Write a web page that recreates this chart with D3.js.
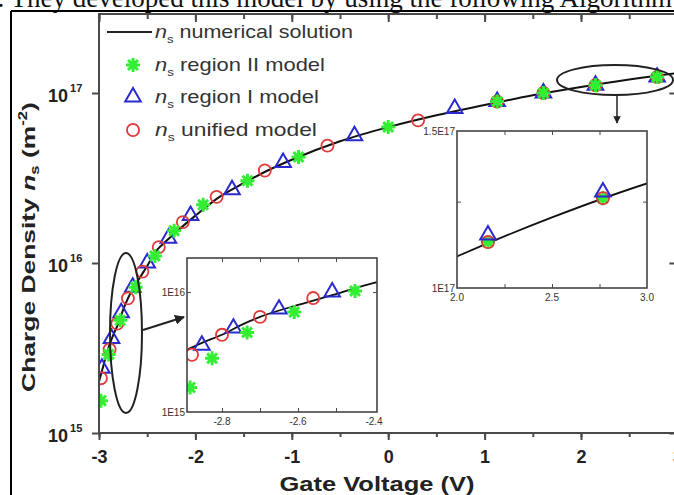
<!DOCTYPE html>
<html>
<head>
<meta charset="utf-8">
<script src="https://cdn.jsdelivr.net/npm/d3@7"></script>
<style>
  body { margin: 0; background: #fff; }
  svg { display: block; font-family: "Liberation Sans", Arial, sans-serif; }
  .axis path, .axis line { stroke: #4a4a4a; }
</style>
</head>
<body>
<div id="chart"></div>
<script>
// numerical solution curve (gate voltage, n_s in m^-2)
const curveV = [-3.0, -2.95, -2.9, -2.85, -2.8, -2.75, -2.7, -2.6, -2.5, -2.4, -2.3, -2.2, -2.0, -1.75, -1.5, -1.25, -1.0, -0.5, 0, 0.5, 1.0, 1.5, 2.0, 2.5, 3.0, 3.2];
const curveN = [2.0e15, 2.55e15, 3.2e15, 3.8e15, 4.4e15, 5.3e15, 6.2e15, 7.8e15, 9.6e15, 1.19e16, 1.35e16, 1.52e16, 1.9e16, 2.45e16, 2.95e16, 3.5e16, 4.05e16, 5.2e16, 6.3e16, 7.4e16, 8.5e16, 9.7e16, 1.085e17, 1.2e17, 1.31e17, 1.35e17];

// region II model (green stars)
const starV = [-2.98, -2.9, -2.78, -2.62, -2.42, -2.22, -1.92, -1.46, -0.93, 0.0, 1.13, 1.61, 2.15, 2.79];
const starN = [1.55e15, 2.9e15, 4.6e15, 7.2e15, 1.1e16, 1.55e16, 2.2e16, 3.05e16, 4.2e16, 6.3e16, 8.9e16, 1.0e17, 1.11e17, 1.24e17];
// region I model (blue triangles)
const triV = [-2.97, -2.87, -2.77, -2.65, -2.5, -2.28, -2.05, -1.62, -1.09, -0.35, 0.69, 1.13, 1.61, 2.15, 2.79];
const triN = [2.4e15, 3.6e15, 5.1e15, 7.2e15, 1.0e16, 1.4e16, 1.9e16, 2.7e16, 3.9e16, 5.6e16, 8.1e16, 8.9e16, 1.0e17, 1.11e17, 1.24e17];
// unified model (red circles)
const circV = [-2.98, -2.89, -2.81, -2.7, -2.55, -2.38, -2.13, -1.78, -1.28, -0.63, 0.31, 1.13, 1.61, 2.15, 2.79];
const circN = [2.1e15, 3.1e15, 4.4e15, 6.2e15, 8.9e15, 1.24e16, 1.74e16, 2.45e16, 3.5e16, 4.9e16, 6.9e16, 8.9e16, 1.0e17, 1.11e17, 1.24e17];

// zoomed inset near threshold
const inStarV = [-2.884, -2.826, -2.734, -2.61, -2.45];
const inStarN = [1.6e15, 2.8e15, 4.6e15, 6.8e15, 1.02e16];
const inTriV = [-2.853, -2.77, -2.65, -2.51];
const inTriN = [3.6e15, 5.0e15, 7.2e15, 1.0e16];
const inCircV = [-2.879, -2.8, -2.7, -2.56];
const inCircN = [3.0e15, 4.4e15, 6.2e15, 8.9e15];

// zoomed inset at high gate voltage
const hiV = [2.163, 2.768];
const hiTriN = [1.147e17, 1.281e17];
const hiCircN = [1.126e17, 1.261e17];
const hiStarN = [1.126e17, 1.261e17];

const xTicks = [-3, -2, -1, 0, 1, 2, 3];
const yTicks = [1e15, 1e16, 1e17];
const legendLabels = ["numerical solution", "region II model", "region I model", "unified model"];

const W = 674, H = 495;
const colors = { star: "#33ee33", tri: "#2a2ad0", circ: "#e03a3a", line: "#111", axis: "#4a4a4a", text: "#333" };

const svg = d3.select("#chart").append("svg").attr("width", W).attr("height", H);

// widen a text horizontally around a fixed x so it fills the reference width
function stretchTo(sel, width, ax) {
  const len = sel.node().getComputedTextLength();
  const k = width / len;
  sel.attr("transform", `translate(${ax},0) scale(${k},1) translate(${-ax},0)`);
}

// page text above the figure (only its lower part shows)
svg.append("text")
  .attr("x", -10).attr("y", 7)
  .style("font-family", "'Liberation Serif', 'Times New Roman', serif")
  .style("font-size", "27px").attr("fill", "#111")
  .text("r. They developed this model by using the following Algorithm");

// figure frame
svg.append("line").attr("x1", 11).attr("x2", 11).attr("y1", 11).attr("y2", H).attr("stroke", "#000").attr("stroke-width", 2);
svg.append("line").attr("x1", 11).attr("x2", W).attr("y1", 11).attr("y2", 11).attr("stroke", "#000").attr("stroke-width", 2);

// main scales
const x = d3.scaleLinear().domain([-3, 2]).range([99, 581]);
const y = d3.scaleLog().domain([1e15, 1e17]).range([433, 93]);
const pLeft = 99, pTop = 14, pBottom = 433, pRight = x(3.0);

function starPath(r) {
  const p = d3.path();
  const d = r * Math.SQRT1_2;
  p.moveTo(-r, 0); p.lineTo(r, 0);
  p.moveTo(0, -r); p.lineTo(0, r);
  p.moveTo(-d, -d); p.lineTo(d, d);
  p.moveTo(-d, d); p.lineTo(d, -d);
  return p.toString();
}
const triPath = d3.symbol(d3.symbolTriangle, 105)();
const circPath = d3.symbol(d3.symbolCircle, 115)();

function drawMarkers(g, vs, ns, kind, sx, sy) {
  const data = vs.map((v, i) => ({ v, n: ns[i] }));
  const sel = g.append("g").selectAll("path").data(data).join("path")
    .attr("transform", d => `translate(${sx(d.v)},${sy(d.n)})`);
  if (kind === "star") {
    sel.attr("d", starPath(7)).attr("fill", "none").attr("stroke", colors.star).attr("stroke-width", 3);
  } else if (kind === "tri") {
    sel.attr("d", triPath).attr("fill", "none").attr("stroke", colors.tri).attr("stroke-width", 2);
  } else {
    sel.attr("d", circPath).attr("fill", "none").attr("stroke", colors.circ).attr("stroke-width", 1.8);
  }
}

const curveData = curveV.map((v, i) => ({ v, n: curveN[i] }));

// clip for main plot
svg.append("clipPath").attr("id", "mainClip").append("rect")
  .attr("x", pLeft).attr("y", pTop).attr("width", pRight - pLeft).attr("height", pBottom - pTop);

const plot = svg.append("g").attr("clip-path", "url(#mainClip)");
plot.append("path").datum(curveData)
  .attr("d", d3.line().x(d => x(d.v)).y(d => y(d.n)).curve(d3.curveMonotoneX))
  .attr("fill", "none").attr("stroke", colors.line).attr("stroke-width", 2);
drawMarkers(plot, triV, triN, "tri", x, y);
drawMarkers(plot, circV, circN, "circ", x, y);
drawMarkers(plot, starV, starN, "star", x, y);

// axes
const minorX = d3.range(-3, 3.01, 0.5);
svg.append("g").attr("class", "axis").attr("transform", `translate(0,${pBottom})`)
  .call(d3.axisBottom(x).tickValues(minorX).tickSize(4).tickFormat(""))
  .call(g => g.select(".domain").remove())
  .call(g => g.selectAll("line").attr("stroke-width", 2));
svg.append("g").attr("class", "axis").attr("transform", `translate(0,${pBottom})`)
  .call(d3.axisBottom(x).tickValues(xTicks).tickSize(7).tickPadding(10).tickFormat(d3.format("d")))
  .call(g => g.select(".domain").remove())
  .call(g => g.selectAll("line").attr("stroke-width", 2))
  .call(g => g.selectAll("text").attr("font-size", 18).attr("font-weight", "bold").attr("fill", "#222")
    .text(d => d < 0 ? "-" + Math.abs(d) : d));
svg.append("g").attr("class", "axis").attr("transform", `translate(0,${pTop})`)
  .call(d3.axisBottom(x).tickValues(minorX).tickSize(5).tickFormat(""))
  .call(g => g.select(".domain").remove())
  .call(g => g.selectAll("line").attr("stroke-width", 2));
svg.append("g").attr("class", "axis").attr("transform", `translate(0,${pTop})`)
  .call(d3.axisBottom(x).tickValues(xTicks).tickSize(8).tickFormat(""))
  .call(g => g.select(".domain").remove())
  .call(g => g.selectAll("line").attr("stroke-width", 2));

const yAxis = svg.append("g").attr("class", "axis").attr("transform", `translate(${pLeft},0)`)
  .call(d3.axisLeft(y).tickValues(yTicks).tickSize(7).tickFormat(""))
  .call(g => g.select(".domain").remove())
  .call(g => g.selectAll("line").attr("stroke-width", 2));
yAxis.selectAll(".tick").append("text")
  .attr("x", -51).attr("dy", "0.45em").attr("text-anchor", "start")
  .attr("fill", "#222").attr("font-weight", "bold").attr("font-size", 18)
  .call(t => t.append("tspan").text("10"))
  .call(t => t.append("tspan").attr("font-size", 11).attr("dx", 2).attr("dy", "-0.85em").text(d => Math.round(Math.log10(d))));
svg.append("g").attr("class", "axis").attr("transform", `translate(${pRight},0)`)
  .call(d3.axisRight(y).tickValues(yTicks).tickSize(-8).tickFormat(""))
  .call(g => g.select(".domain").remove())
  .call(g => g.selectAll("line").attr("stroke-width", 2));

// frame of the main plot
svg.append("rect").attr("x", pLeft).attr("y", pTop).attr("width", pRight - pLeft).attr("height", pBottom - pTop)
  .attr("fill", "none").attr("stroke", colors.axis).attr("stroke-width", 2);

// axis titles
const xt = svg.append("text").attr("x", 377).attr("y", 491).attr("text-anchor", "middle")
  .attr("font-size", 20).attr("font-weight", "bold").attr("fill", "#222").text("Gate Voltage (V)");
stretchTo(xt, 195, 377);

const ytGroup = svg.append("g").attr("transform", "translate(35,247) rotate(-90)");
const yt = ytGroup.append("text").attr("x", 0).attr("y", 0).attr("text-anchor", "middle")
  .attr("font-size", 19).attr("font-weight", "bold").attr("fill", "#222");
yt.append("tspan").text("Charge Density ");
yt.append("tspan").attr("font-style", "italic").text("n");
yt.append("tspan").attr("font-size", 12).attr("dy", 4).text("s");
yt.append("tspan").attr("dy", -4).text(" (m");
yt.append("tspan").attr("font-size", 12).attr("dy", -8).text("-2");
yt.append("tspan").attr("dy", 8).text(")");
stretchTo(yt, 290, 0);

// legend
const legend = svg.append("g");
const rowY = [32, 65, 97, 130];
const legendW = [198, 170, 164, 162];
legend.append("line").attr("x1", 107).attr("x2", 152).attr("y1", rowY[0]).attr("y2", rowY[0])
  .attr("stroke", "#222").attr("stroke-width", 2);
legend.append("path").attr("transform", `translate(133,${rowY[1]})`).attr("d", starPath(7))
  .attr("fill", "none").attr("stroke", colors.star).attr("stroke-width", 3);
legend.append("path").attr("transform", `translate(133,${rowY[2]})`).attr("d", triPath)
  .attr("fill", "none").attr("stroke", colors.tri).attr("stroke-width", 2);
legend.append("path").attr("transform", `translate(133,${rowY[3]})`).attr("d", circPath)
  .attr("fill", "none").attr("stroke", colors.circ).attr("stroke-width", 1.8);
legendLabels.forEach((lab, i) => {
  const t = legend.append("text").attr("x", 155).attr("y", rowY[i] + 6)
    .attr("font-size", 18).attr("fill", colors.text);
  t.append("tspan").attr("font-style", "italic").text("n");
  t.append("tspan").attr("font-size", 11).attr("dy", 5).text("s");
  t.append("tspan").attr("dy", -5).text(" " + lab);
  stretchTo(t, legendW[i], 155);
});

// ellipses and arrows pointing at the insets
svg.append("defs").append("marker").attr("id", "arrow").attr("viewBox", "0 0 10 10")
  .attr("refX", 9).attr("refY", 5).attr("markerWidth", 5).attr("markerHeight", 5).attr("orient", "auto")
  .append("path").attr("d", "M0,0L10,5L0,10z").attr("fill", "#222");
svg.append("ellipse").attr("cx", 126).attr("cy", 333).attr("rx", 16).attr("ry", 80)
  .attr("fill", "none").attr("stroke", "#222").attr("stroke-width", 2);
svg.append("line").attr("x1", 143).attr("y1", 330).attr("x2", 184).attr("y2", 317)
  .attr("stroke", "#222").attr("stroke-width", 2).attr("marker-end", "url(#arrow)");
svg.append("ellipse").attr("cx", 615).attr("cy", 80).attr("rx", 58).attr("ry", 15)
  .attr("fill", "none").attr("stroke", "#222").attr("stroke-width", 2);
svg.append("line").attr("x1", 617).attr("y1", 95).attr("x2", 617).attr("y2", 123)
  .attr("stroke", "#222").attr("stroke-width", 1.5).attr("marker-end", "url(#arrow)");

// inset helper
function drawInset(cfg) {
  const g = svg.append("g");
  g.append("rect").attr("x", cfg.x0).attr("y", cfg.y0).attr("width", cfg.x1 - cfg.x0).attr("height", cfg.y1 - cfg.y0)
    .attr("fill", "#fff");
  g.append("clipPath").attr("id", cfg.id).append("rect")
    .attr("x", cfg.x0).attr("y", cfg.y0).attr("width", cfg.x1 - cfg.x0).attr("height", cfg.y1 - cfg.y0);
  const inner = g.append("g").attr("clip-path", `url(#${cfg.id})`);
  inner.append("path").datum(curveData)
    .attr("d", d3.line().x(d => cfg.sx(d.v)).y(d => cfg.sy(d.n)).curve(d3.curveMonotoneX))
    .attr("fill", "none").attr("stroke", colors.line).attr("stroke-width", 1.8);
  cfg.marks.forEach(m => drawMarkers(inner, m[0], m[1], m[2], cfg.sx, cfg.sy));

  g.append("g").attr("class", "axis").attr("transform", `translate(0,${cfg.y1})`)
    .call(d3.axisTop(cfg.sx).tickValues(cfg.xt).tickSize(4).tickFormat(""))
    .call(a => a.select(".domain").remove());
  g.append("g").attr("class", "axis").attr("transform", `translate(0,${cfg.y0})`)
    .call(d3.axisBottom(cfg.sx).tickValues(cfg.xt).tickSize(4).tickFormat(""))
    .call(a => a.select(".domain").remove());
  g.append("g").attr("class", "axis").attr("transform", `translate(${cfg.x0},0)`)
    .call(d3.axisRight(cfg.sy).tickValues(cfg.yt).tickSize(4).tickFormat(""))
    .call(a => a.select(".domain").remove());
  g.append("g").attr("class", "axis").attr("transform", `translate(${cfg.x1},0)`)
    .call(d3.axisLeft(cfg.sy).tickValues(cfg.yt).tickSize(4).tickFormat(""))
    .call(a => a.select(".domain").remove());
  g.append("rect").attr("x", cfg.x0).attr("y", cfg.y0).attr("width", cfg.x1 - cfg.x0).attr("height", cfg.y1 - cfg.y0)
    .attr("fill", "none").attr("stroke", "#444").attr("stroke-width", 1.6);

  cfg.xl.forEach(v => g.append("text").attr("x", cfg.sx(v)).attr("y", cfg.y1 + 13)
    .attr("text-anchor", "middle").attr("font-size", 10).attr("fill", "#333").text(cfg.xf(v)));
  cfg.yl.forEach(v => g.append("text").attr("x", cfg.x0 - 2).attr("y", cfg.sy(v) + 4)
    .attr("text-anchor", "end").attr("font-size", 10).attr("fill", "#333").text(cfg.yf(v)));
}

drawInset({
  id: "clipLow", x0: 187, x1: 377, y0: 258, y1: 412,
  sx: d3.scaleLinear().domain([-2.8, -2.4]).range([222, 374]),
  sy: d3.scaleLog().domain([1e15, 1e16]).range([412, 292]),
  xt: [-2.8, -2.7, -2.6, -2.5], yt: [1e16],
  xl: [-2.8, -2.6, -2.4], yl: [1e15, 1e16],
  xf: d => d.toFixed(1), yf: d => "1E" + Math.round(Math.log10(d)),
  marks: [[inTriV, inTriN, "tri"], [inCircV, inCircN, "circ"], [inStarV, inStarN, "star"]]
});

drawInset({
  id: "clipHigh", x0: 457, x1: 647, y0: 131, y1: 288,
  sx: d3.scaleLinear().domain([2.0, 3.0]).range([457, 647]),
  sy: d3.scaleLog().domain([1e17, 1.5e17]).range([288, 131]),
  xt: [2.25, 2.5, 2.75], yt: [1.25e17],
  xl: [2.0, 2.5, 3.0], yl: [1e17, 1.5e17],
  xf: d => d.toFixed(1), yf: d => d === 1e17 ? "1E17" : "1.5E17",
  marks: [[hiV, hiStarN, "star"], [hiV, hiCircN, "circ"], [hiV, hiTriN, "tri"]]
});
</script>
</body>
</html>
